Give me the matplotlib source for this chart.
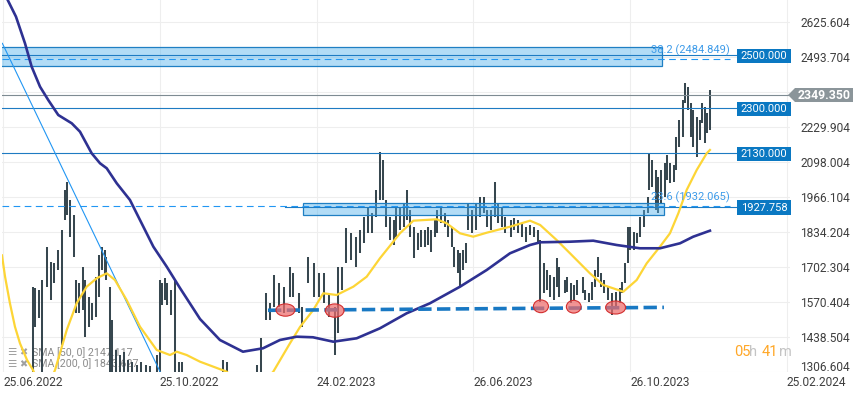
import matplotlib
matplotlib.use('Agg')
import matplotlib.pyplot as plt
import matplotlib.patches as mpatches
from matplotlib.transforms import ScaledTranslation

plt.rcParams['font.family'] = ['Roboto', 'DejaVu Sans']

# ---------------- data ----------------
x_tick_days = [0, 122, 244, 366, 488, 610]          # days since 25.06.2022
x_tick_labels = ['25.06.2022', '25.10.2022', '24.02.2023',
                 '26.06.2023', '26.10.2023', '25.02.2024']
y_tick_values = [2625.604, 2493.704, 2361.804, 2229.904, 2098.004, 1966.104,
                 1834.204, 1702.304, 1570.404, 1438.504, 1306.604]
y_tick_labels = ['2625.604', '2493.704', '', '2229.904', '2098.004', '1966.104',
                 '1834.204', '1702.304', '1570.404', '1438.504', '1306.604']

bar_day = [23, 25, 28, 30, 34, 37, 40, 43, 46, 48, 50, 52, 55, 57, 59, 62, 64, 67, 69, 72,
           75, 77, 79, 80, 83, 85, 88, 91, 94, 97, 100, 104, 107, 111, 114, 120, 122, 124,
           126, 128, 131, 134, 137, 139, 171, 174, 198, 201,
           205, 208, 211, 215, 219, 223, 226, 230, 233, 237, 242, 246, 250, 254, 258, 261,
           264, 267, 271, 275, 278, 281, 284, 287, 290, 293, 296, 298, 301, 304, 306, 309,
           312, 314, 317, 320, 323, 325, 328, 331, 333, 336, 338, 341, 344, 346, 349, 351,
           354, 356, 358, 360, 362, 365, 368, 371, 374, 377, 380, 383, 385, 388, 391, 395,
           398, 401, 404, 407, 410, 413, 416, 418, 421, 423, 426, 429, 431, 433, 437, 439,
           442, 444, 447, 451, 453, 456, 458, 461, 463, 465, 468, 471, 474, 477, 480, 482,
           484, 486, 488, 491, 493, 496, 499, 502, 503, 505, 508, 510, 512, 515, 517, 519,
           522, 524, 526, 529, 531, 533, 535, 537, 540, 542, 544, 546, 548, 550]
bar_high = [1626, 1622, 1614, 1652, 1777, 1720, 1716, 1765, 1841, 1991, 2022, 1954, 1897, 1652,
            1641, 1701, 1652, 1588, 1566, 1664, 1746, 1777, 1765, 1739, 1626, 1502, 1388, 1370,
            1381, 1351, 1343, 1332, 1343, 1332, 1328, 1370, 1652, 1641, 1660, 1641, 1615, 1652,
            1343, 1343, 1351, 1343, 1332, 1434,
            1603, 1566, 1671, 1641, 1626, 1701, 1679, 1603, 1550, 1739, 1716, 1679, 1679, 1603,
            1550, 1701, 1701, 1848, 1829, 1814, 1841, 1890, 1927, 1905, 1991, 2135, 2104, 1954,
            1890, 1878, 1927, 1927, 1942, 1991, 1916, 1852, 1829, 1841, 1841, 1852, 1841, 1878,
            1916, 1924, 1905, 1878, 1852, 1777, 1765, 1754, 1765, 1792, 1942, 1916, 1942, 1965,
            1965, 1916, 1916, 2022, 1942, 1927, 1890, 1878, 1886, 1878, 1867, 1852, 1860, 1852,
            1841, 1803, 1716, 1690, 1671, 1664, 1735, 1701, 1652, 1664, 1641, 1633, 1652, 1664,
            1615, 1603, 1645, 1690, 1739, 1679, 1652, 1626, 1603, 1607, 1622, 1645, 1716, 1852,
            1852, 1833, 1829, 1890, 1916, 1965, 2131, 2104, 2067, 2040, 2067, 2093, 2123, 2093,
            2086, 2191, 2255, 2331, 2395, 2380, 2319, 2293, 2267, 2255, 2319, 2304, 2282, 2368]
bar_low = [1250, 1475, 1509, 1250, 1626, 1577, 1641, 1690, 1407, 1878, 1897, 1814, 1739, 1528,
           1528, 1539, 1437, 1475, 1502, 1513, 1588, 1690, 1671, 1652, 1250, 1250, 1250, 1250,
           1250, 1250, 1250, 1250, 1250, 1250, 1250, 1250, 1250, 1558, 1577, 1558, 1520, 1250,
           1250, 1250, 1250, 1250, 1250, 1250,
           1502, 1502, 1550, 1550, 1528, 1588, 1588, 1528, 1475, 1641, 1588, 1588, 1566, 1513,
           1370, 1453, 1615, 1716, 1728, 1701, 1754, 1792, 1829, 1829, 1890, 1954, 1954, 1852,
           1803, 1784, 1814, 1841, 1852, 1878, 1814, 1735, 1765, 1777, 1777, 1784, 1758, 1814,
           1829, 1867, 1852, 1814, 1777, 1701, 1679, 1626, 1690, 1716, 1841, 1829, 1841, 1890,
           1905, 1852, 1841, 1890, 1867, 1852, 1829, 1814, 1841, 1829, 1814, 1795, 1822, 1814,
           1795, 1569, 1603, 1615, 1588, 1577, 1626, 1588, 1603, 1607, 1566, 1577, 1596, 1603,
           1577, 1569, 1577, 1626, 1664, 1626, 1603, 1577, 1520, 1550, 1566, 1603, 1641, 1716,
           1765, 1765, 1792, 1814, 1852, 1905, 1991, 2003, 1916, 1905, 1942, 1965, 2029, 2018,
           2022, 2067, 2153, 2191, 2319, 2293, 2191, 2153, 2116, 2180, 2244, 2169, 2206, 2218]
last_price = 2349.35

sma50_day = [-0.8, 1.6, 5.4, 9.3, 13.2, 18.7, 23.3, 32.0, 40.5, 49.6, 57.3, 65.1, 72.9, 80.7,
             87.1, 96.2, 106.6, 119.6, 129.9, 135.2, 142.9, 153.3, 174.1, 192.2, 210.3, 223.3,
             231.1, 241.4, 249.2, 259.6, 272.6, 283.0, 293.3, 308.9, 319.3, 337.5, 345.2, 355.6,
             365.9, 376.4, 394.5, 410.1, 418.0, 430.8, 441.2, 456.7, 467.1, 482.7, 493.1, 500.9,
             511.2, 519.0, 525.5, 532.0, 539.8, 547.6, 550.1]
sma50_val = [1745, 1664.6, 1564.4, 1476.2, 1413.6, 1350.7, 1313.0, 1219, 1313.0, 1463.8, 1564.4,
             1626.9, 1658.6, 1677.4, 1652.2, 1576.8, 1476.2, 1388.4, 1369.5, 1382.0, 1369.5,
             1344.3, 1306.6, 1219, 1306.6, 1413.6, 1475.1, 1539.1, 1602.1, 1595.7, 1627.0,
             1664.6, 1734.0, 1828.2, 1875.7, 1881.0, 1865.9, 1828.2, 1815.4, 1830.4, 1853.0,
             1875.7, 1859.5, 1802.9, 1752.8, 1677.4, 1633.3, 1608.1, 1652.2, 1715.1, 1777.7,
             1828.2, 1903.5, 1991.4, 2066.7, 2129.7, 2142.2]
sma200_day = [-0.8, 3.7, 10.1, 17.1, 22.3, 28.8, 35.2, 43.0, 53.5, 59.9, 69.0, 75.5, 80.7, 88.5,
              98.8, 101.4, 117.0, 127.4, 137.7, 153.3, 168.8, 186.7, 202.3, 215.5, 228.5,
              241.2, 257.0, 275.2, 293.3, 314.1, 332.2, 355.6, 376.4, 394.5, 410.1, 418.1,
              441.2, 459.3, 477.5, 495.6, 511.2, 526.8, 537.1, 550.1]
sma200_val = [2750, 2707, 2644.5, 2544.2, 2456.0, 2380.7, 2330.5, 2274.0, 2242.7, 2211.1, 2129.7,
              2092.0, 2073.2, 2016.6, 1953.7, 1928.4, 1777.7, 1702.3, 1622.0, 1505.2, 1426.1,
              1382.0, 1394.8, 1426.1, 1438.5, 1436.3, 1419.7, 1432.5, 1470.1, 1526.7, 1564.4,
              1626.9, 1689.9, 1752.8, 1784.1, 1794.3, 1796.5, 1800.3, 1784.1, 1771.7, 1771.7,
              1790.5, 1815.4, 1838.0]

trend_day = [-0.5, 130]
trend_val = [2544, 1228]
support_day = [206.2, 514.3]
support_val = [1538, 1549]
touch_day = [219.8, 258.1, 418.6, 444.1, 476.7]
touch_val = [1539, 1537, 1553, 1551.5, 1548.5]

level_values = [2500.0, 2300.0, 2130.0, 1927.758]
level_texts = ['2500.000', '2300.000', '2130.000', '1927.758']
fib_values = [2484.849, 1932.065]
fib_texts = ['38.2 (2484.849)', '23.6 (1932.065)']
zone_start = [-30, 233.7]
zone_end = [512.5, 514.6]
zone_low = [2457.5, 1896.0]
zone_high = [2529.1, 1941.3]

sma50_label = 'SMA [50, 0] 2147.117'
sma200_label = 'SMA [200, 0] 1843.627'

# ---------------- figure ----------------
W, H = 859, 397
fig = plt.figure(figsize=(W / 100, H / 100), dpi=100)
ax = fig.add_axes([2 / W, (H - 371.7) / H, 788 / W, 371.7 / H])
X0, X1 = -0.78, 612.4
Y0, Y1 = 1306.604, 2707.4
ax.set_xlim(X0, X1)
ax.set_ylim(Y0, Y1)
PPD = 788 / (X1 - X0)          # pixels per day
VPP = (Y1 - Y0) / 371.7        # value per pixel


def day_at(px):
    return X0 + (px - 2) / PPD


def axx(px):
    return (px - 2) / 788


for s in ax.spines.values():
    s.set_visible(False)

ax.set_xticks(x_tick_days)
ax.set_xticklabels(x_tick_labels)
ax.set_yticks(y_tick_values)
ax.set_yticklabels(y_tick_labels)
ax.yaxis.tick_right()
ax.tick_params(axis='y', length=0, pad=7.3, labelsize=8.6, labelcolor='#3f3f3f')
ax.tick_params(axis='x', length=0, pad=3.0, labelsize=8.6, labelcolor='#3f3f3f')
for lbl in ax.get_xticklabels():
    lbl.set_ha('left')
ylbls = ax.get_yticklabels()
ylbls[-1].set_transform(ylbls[-1].get_transform() +
                        ScaledTranslation(0, 0.06, fig.dpi_scale_trans))
ax.grid(True, color='#eeeeee', lw=0.8, zorder=0)
ax.set_axisbelow(True)

ytr = ax.get_yaxis_transform()

# zones
for xs, xe, lo, hi in zip(zone_start, zone_end, zone_low, zone_high):
    ax.add_patch(mpatches.Rectangle((xs, lo), xe - xs, hi - lo,
                                    fc=(0.33, 0.70, 0.93, 0.45), ec='#1f7fc3',
                                    lw=0.9, zorder=3.5))

# level lines
for v in level_values:
    start = X0 if v != 1927.758 else day_at(285)
    ax.plot([start, day_at(737)], [v, v], color='#1e7bc2', lw=0.8, zorder=3.6)
for v, t in zip(fib_values, fib_texts):
    ax.plot([X0, day_at(730)], [v, v], color='#2196f3', lw=0.8,
            dashes=(6, 4), zorder=3.6)
    ax.annotate(t, xy=(axx(730), v), xycoords=ytr, xytext=(0, 2.2),
                textcoords='offset points', ha='right', va='bottom',
                fontsize=8, color='#3d9be9', zorder=6, annotation_clip=False)
ax.plot([X0, day_at(788)], [last_price, last_price], color='#7e8b92', lw=0.8, zorder=3.6)

# legend texts (under the bars)
for yy, lab in [(352.3, sma50_label), (364, sma200_label)]:
    fy = (371.7 - yy) / 371.7
    ax.text(axx(7), fy, '\u2630', transform=ax.transAxes, fontsize=7.5,
            color='#a0a0a0', va='center', ha='left', family=['DejaVu Sans'], zorder=1.5)
    ax.text(axx(19), fy, '\u2716', transform=ax.transAxes, fontsize=7,
            color='#a0a0a0', va='center', ha='left', family=['DejaVu Sans'], zorder=1.5)
    ax.text(axx(32), fy, lab, transform=ax.transAxes,
            fontsize=7.7, color='#8a8a8a', va='center', ha='left', zorder=1.5)

# price bars
ax.vlines(bar_day, bar_low, bar_high, colors='#37474f', lw=1.45, zorder=3)

# trend line
ax.plot(trend_day, trend_val, color='#2196f3', lw=0.8, zorder=4)

# moving averages
ax.plot(sma200_day, sma200_val, color='#2e3192', lw=1.9, zorder=4.2,
        solid_joinstyle='round')
ax.plot(sma50_day, sma50_val, color='#fdd536', lw=1.6, zorder=4.1,
        solid_joinstyle='round')

# support line and touches
ax.plot(support_day, support_val, color='#1878c3', lw=2.6, dashes=(3.7, 1.5), zorder=4.5)
touch_wpx = [19, 18.7, 15, 14.7, 20]
touch_hpx = [12.3, 13.3, 12.7, 12.7, 13]
for d, v, wp, hp in zip(touch_day, touch_val, touch_wpx, touch_hpx):
    ax.add_patch(mpatches.Ellipse((d, v), wp / PPD, hp * VPP,
                                  fc=(0.93, 0.42, 0.42, 0.72), ec='#d32f2f',
                                  lw=0.8, zorder=5))

# right-side value boxes
for v, t in zip(level_values, level_texts):
    ax.add_patch(mpatches.Rectangle((axx(737), v - 8 * VPP), axx(791) - axx(737),
                                    14.4 * VPP, transform=ytr, fc='#0a78c2',
                                    ec='none', clip_on=False, zorder=7))
    ax.text(axx(764), v - 0.8 * VPP, t, transform=ytr, ha='center', va='center',
            color='white', fontsize=8, zorder=8, clip_on=False)

pv = last_price
arrow = [(axx(788), pv), (axx(795), pv + 7 * VPP), (axx(853), pv + 7 * VPP),
         (axx(853), pv - 7 * VPP), (axx(795), pv - 7 * VPP)]
ax.add_patch(mpatches.Polygon(arrow, closed=True, transform=ytr, fc='#8b959a',
                              ec='none', clip_on=False, zorder=7))
ax.text(axx(824), pv - 0.5 * VPP, '2349.350', transform=ytr, ha='center',
        va='center', color='white', fontsize=8.8, fontweight='bold', zorder=8,
        clip_on=False)

# timer text
ty = (371.7 - 352.3) / 371.7
for px, t, c in [(734, '05', '#ffa726'), (749.3, 'h', '#c4c4c4'),
                 (762, '41', '#ffa726'), (779.3, 'm', '#c4c4c4')]:
    ax.text(axx(px), ty, t, transform=ax.transAxes, ha='left', va='center',
            color=c, fontsize=10.5, zorder=8)

fig.savefig('out.png', dpi=100)
